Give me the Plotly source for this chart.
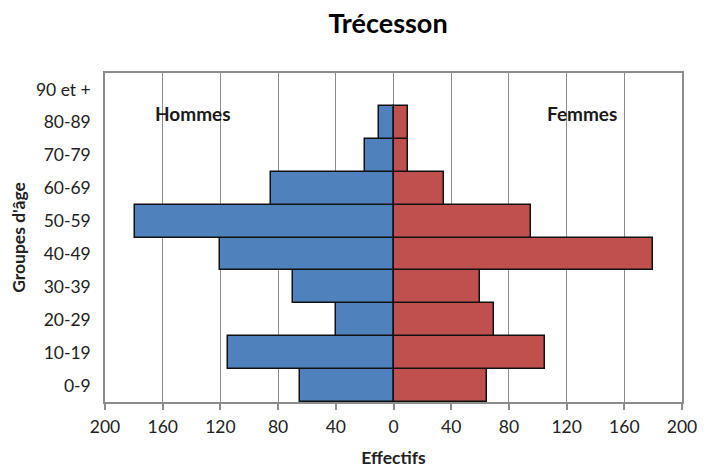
import plotly.graph_objects as go

age_groups = ["0-9", "10-19", "20-29", "30-39", "40-49", "50-59", "60-69", "70-79", "80-89", "90 et +"]
hommes = [65, 115, 40, 70, 120, 179, 85, 20, 10, 0]
femmes = [65, 105, 70, 60, 180, 95, 35, 10, 10, 0]
tick_vals = [-200, -160, -120, -80, -40, 0, 40, 80, 120, 160, 200]
tick_text = [str(abs(v)) for v in tick_vals]

FONT = "Lato, 'Open Sans', sans-serif"
GRID = "#8c8c8c"
TXT = "#222222"

# no outline for empty bars
line_w_h = [1.5 if v else 0 for v in hommes]
line_w_f = [1.5 if v else 0 for v in femmes]

fig = go.Figure()
fig.add_trace(go.Bar(
    y=age_groups, x=[-v for v in hommes], orientation="h", name="Hommes",
    marker=dict(color="#4F81BD", line=dict(color="#111111", width=line_w_h)),
    width=1.0,
))
fig.add_trace(go.Bar(
    y=age_groups, x=femmes, orientation="h", name="Femmes",
    marker=dict(color="#C0504D", line=dict(color="#111111", width=line_w_f)),
    width=1.0,
))

fig.update_layout(
    width=721, height=471,
    margin=dict(l=105, r=39, t=73, b=69),
    paper_bgcolor="white", plot_bgcolor="white",
    barmode="overlay", bargap=0,
    showlegend=False,
    font=dict(family=FONT, size=17, color=TXT),
    title=dict(text="<b>Trécesson</b>", x=388/721, xanchor="center",
               y=1 - 24/471, yanchor="middle",
               font=dict(family=FONT, size=27, color="#000000")),
    xaxis=dict(
        range=[-200, 200], tickvals=tick_vals, ticktext=tick_text,
        showgrid=True, gridcolor=GRID, gridwidth=1, zeroline=False,
        showline=True, linecolor=GRID, linewidth=1.5, mirror=True,
        ticks="outside", ticklen=6, tickcolor=GRID, tickwidth=1.5,
        ticklabelstandoff=2, automargin=False,
        tickfont=dict(size=17.5, color=TXT),
        title=dict(text="<b>Effectifs</b>", standoff=16,
                   font=dict(size=17.5, color=TXT)),
    ),
    yaxis=dict(
        categoryorder="array", categoryarray=age_groups,
        range=[-0.5, 9.5],
        showgrid=False, zeroline=False,
        showline=True, linecolor=GRID, linewidth=1.5, mirror=True,
        ticks="", ticklabelstandoff=9, automargin=False,
        tickfont=dict(size=17.5, color=TXT),
        title=dict(text="<b>Groupes d'âge</b>", standoff=6,
                   font=dict(size=17.5, color=TXT)),
    ),
    annotations=[
        dict(text="<b>Hommes</b>", x=-139, y=0.878, xref="x", yref="paper",
             yanchor="middle", showarrow=False,
             font=dict(family=FONT, size=19, color="#1a1a1a")),
        dict(text="<b>Femmes</b>", x=131, y=0.876, xref="x", yref="paper",
             yanchor="middle", showarrow=False,
             font=dict(family=FONT, size=19, color="#1a1a1a")),
    ],
)

fig.write_html("out.html")
